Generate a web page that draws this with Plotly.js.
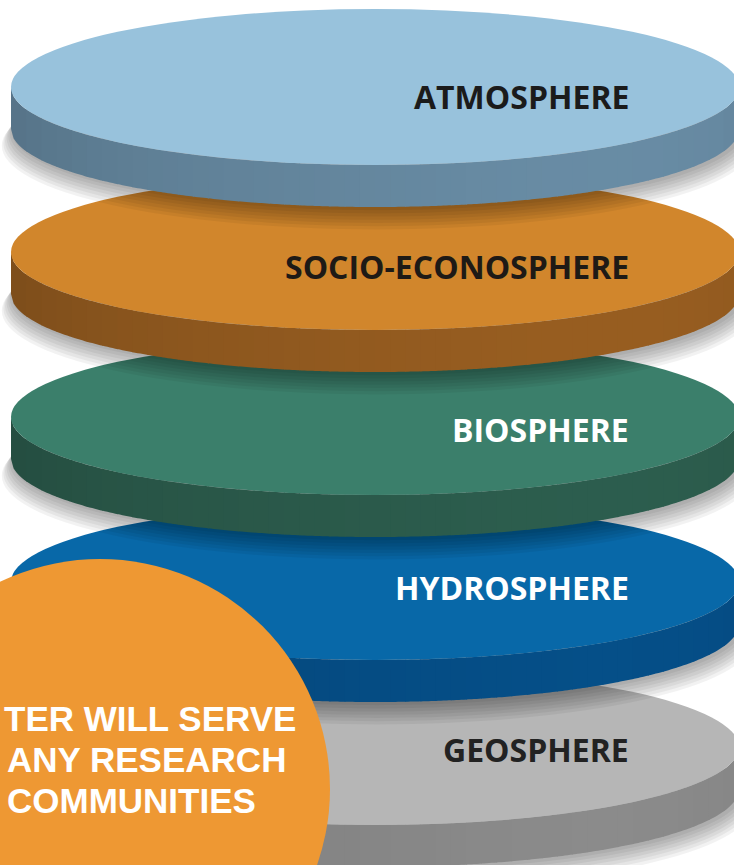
<!DOCTYPE html>
<html><head><meta charset="utf-8">
<script src="https://cdn.plot.ly/plotly-3.0.1.min.js"></script>
<style>html,body{margin:0;padding:0;background:#fff;overflow:hidden}#chart{width:734px;height:865px}</style>
</head><body><div id="chart"></div>
<script>
// ---- data ----
const layers = ['ATMOSPHERE', 'SOCIO-ECONOSPHERE', 'BIOSPHERE', 'HYDROSPHERE', 'GEOSPHERE'];
const calloutLines = ['TER WILL SERVE', 'ANY RESEARCH', 'COMMUNITIES'];

// ---- styles ----
const topColors  = ['#98C2DC', '#D1862C', '#3B7F6B', '#0868A8', '#B6B6B6'];
const sideColors = ['#6A8EA7', '#9A5F21', '#2D5F4F', '#05508A', '#8D8D8D'];
const labelColors = ['#1b1b1b', '#1e1a16', '#ffffff', '#ffffff', '#222222'];
const labelDy = [9, 14, 12, 5, 2];
const calloutColor = '#EE9833';

const W = 734, H = 865;
const CX = 375, RX = 364, RY = 78, T = 42, Y0 = 87, STEP = 165;

function hexToRgb(h){h=h.replace('#','');return [parseInt(h.slice(0,2),16),parseInt(h.slice(2,4),16),parseInt(h.slice(4,6),16)];}
function shade(h,f){const c=hexToRgb(h).map(v=>Math.max(0,Math.min(255,Math.round(v*f))));return 'rgb('+c.join(',')+')';}
function ey(x,cy){const u=(x-CX)/RX;return cy+RY*Math.sqrt(Math.max(0,1-u*u));}

const shapes = [];
function ellipse(cx,cy,rx,ry,fill){
  shapes.push({type:'circle',xref:'x',yref:'y',x0:cx-rx,x1:cx+rx,y0:cy-ry,y1:cy+ry,fillcolor:fill,line:{width:0},layer:'above'});
}
function shadowOf(cy){
  for(let k=1;k<=7;k++){
    ellipse(CX+2, cy+T+k*2.4, RX+k*1.6, RY+k*0.8, 'rgba(0,0,0,0.05)');
  }
}
function disc(i){
  const cy = Y0 + STEP*i;
  const N = 48;
  for(let j=0;j<N;j++){
    const xa = CX-RX + (2*RX)*j/N, xb = CX-RX + (2*RX)*(j+1)/N + 0.8;
    const xbb = Math.min(xb, CX+RX);
    const um = ((xa+xbb)/2 - CX)/RX;
    const f = 0.95 + 0.07*um - 0.07*Math.pow(um,4);
    const pts = [];
    const M = 6;
    for(let m=0;m<=M;m++){const x=xa+(xbb-xa)*m/M;pts.push([x,ey(x,cy)]);}
    for(let m=M;m>=0;m--){const x=xa+(xbb-xa)*m/M;pts.push([x,ey(x,cy)+T]);}
    const d = 'M'+pts.map(p=>p[0].toFixed(2)+','+p[1].toFixed(2)).join(' L')+' Z';
    shapes.push({type:'path',xref:'x',yref:'y',path:d,fillcolor:shade(sideColors[i],f),line:{width:0},layer:'above'});
  }
  ellipse(CX, cy, RX, RY, topColors[i]);
}

for(let i=layers.length-1;i>=0;i--){
  shadowOf(Y0+STEP*i);
  disc(i);
}
// callout circle
const CC = {cx:100, cy:789, r:230};
ellipse(CC.cx, CC.cy, CC.r, CC.r, calloutColor);

const annotations = layers.map((name,i)=>({
  x: 631, y: Y0 + STEP*i + labelDy[i], xref:'x', yref:'y', xanchor:'right', yanchor:'middle',
  text: '<b>'+name+'</b>', showarrow:false,
  font:{family:'Open Sans, sans-serif', size:32, color:labelColors[i]}
}));
const calloutEnds = [296, 286, 256];
calloutLines.forEach((t,k)=>{
  annotations.push({x: calloutEnds[k], y: 718 + 41*k, xref:'x', yref:'y', xanchor:'right', yanchor:'middle',
    text:'<b>'+t+'</b>', showarrow:false, borderpad:0, borderwidth:0,
    font:{family:'Liberation Sans, Arial, sans-serif', size:35, color:'#ffffff'}});
});

const layout = {
  width: W, height: H, margin:{l:0,r:0,t:0,b:0,pad:0},
  paper_bgcolor:'#ffffff', plot_bgcolor:'#ffffff',
  xaxis:{range:[0,W], visible:false, fixedrange:true},
  yaxis:{range:[H,0], visible:false, fixedrange:true},
  showlegend:false, shapes, annotations
};
Plotly.newPlot('chart', [{x:[],y:[],type:'scatter',hoverinfo:'skip'}], layout, {staticPlot:true, displayModeBar:false});
</script></body></html>
